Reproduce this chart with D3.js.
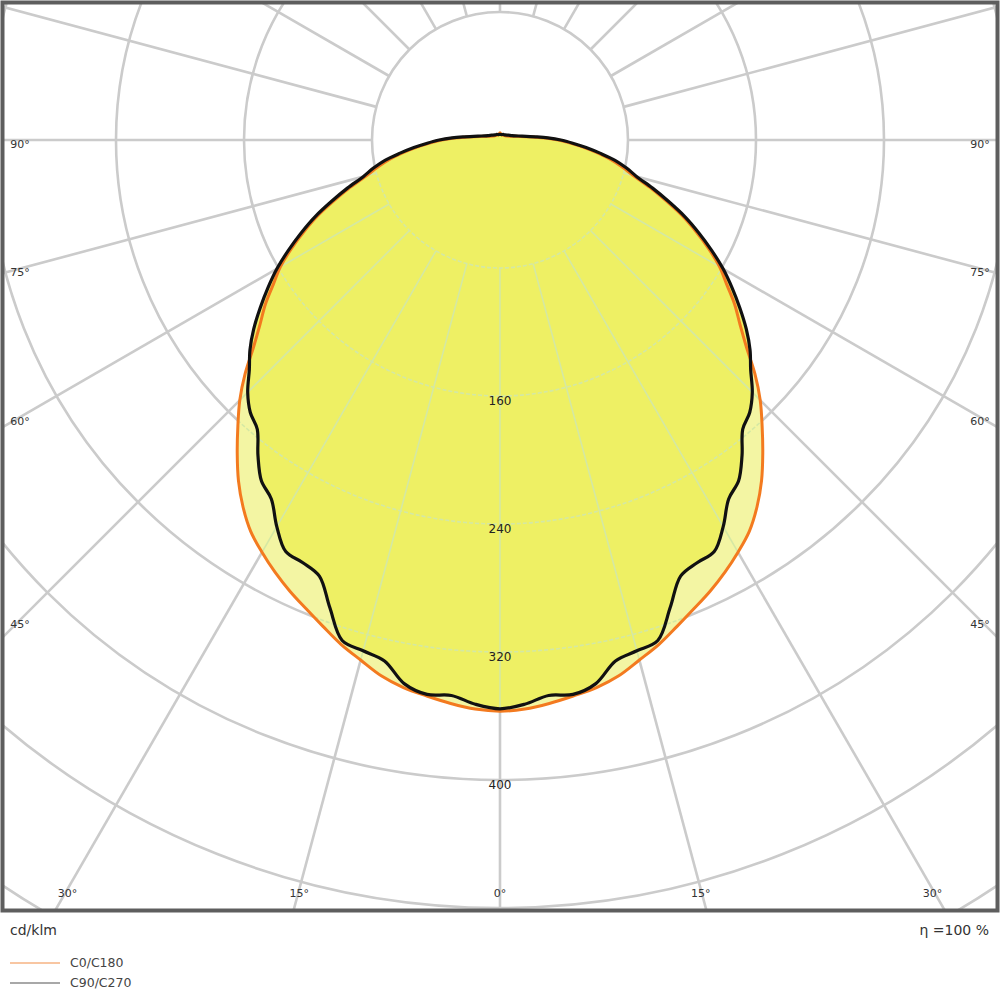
<!DOCTYPE html>
<html>
<head>
<meta charset="utf-8">
<script src="https://cdn.jsdelivr.net/npm/d3@7"></script>
<style>
  body { margin: 0; background: #fff; }
  svg { display: block; font-family: "DejaVu Sans", sans-serif; }
</style>
</head>
<body>
<div id="chart"></div>
<script>
/* light distribution curve, values in cd/klm */
const GAMMA = [0, 2.5, 5, 7.5, 10, 12.5, 15, 17.5, 20, 22.5, 25, 27.5, 30, 32.5, 35, 37.5, 40, 42.5, 45, 47.5,
  50, 52.5, 55, 57.5, 60, 62.5, 65, 67.5, 70, 72.5, 75, 77.5, 80, 82.5, 85, 87.5, 90, 92.5, 95, 100,
  105, 110, 120, 135, 150, 165, 180];

const C0_C180 = [357, 356, 353.5, 350.5, 347.5, 343, 336.5, 330.5, 323.5, 317, 311, 304.5, 297.5, 290, 280, 268.5, 255.5, 242.5, 230, 216,
  201, 189, 179, 168, 158.5, 147, 135, 123, 110, 98, 86.5, 78.5, 70.5, 61.5, 52.5, 44, 36.5, 28.5, 21, 13,
  9, 7, 5, 4, 3.5, 3.5, 4.5];

const C90_C270 = [355.5, 353, 348.5, 349.5, 345, 333.5, 330.5, 328, 311, 295, 291.5, 290, 279, 266, 260, 248.5, 236, 231, 223, 212.5,
  204, 194, 183, 172, 161, 149, 137, 125, 112, 100, 88.5, 81, 73, 63, 54, 45.5, 38, 30, 22.5, 14,
  10, 8, 6, 4.5, 4, 3.5, 3.5];

const RINGS = [80, 160, 240, 320, 400, 480, 560, 640];
const RING_LABELS = [160, 240, 320, 400];
const ANGLE_TICKS = [0, 15, 30, 45, 60, 75, 90];
const SERIES = ["C0/C180", "C90/C270"];

const W = 1000, H = 1000;
const cx = 500, cy = 140;
const frame = { x: 2.5, y: 2.5, w: 995, h: 908 };
const rad = Math.PI / 180;

const r = d3.scaleLinear().domain([0, 80]).range([0, 128]);

const svg = d3.select("#chart").append("svg").attr("width", W).attr("height", H);
const defs = svg.append("defs");

defs.append("clipPath").attr("id", "frame")
  .append("rect").attr("x", frame.x).attr("y", frame.y).attr("width", frame.w).attr("height", frame.h);

// closed outline: right half gamma 0..180, left half mirrored
function outline(values) {
  const pts = GAMMA.map((g, i) => [Math.PI - g * rad, r(values[i])]);
  for (let i = GAMMA.length - 2; i > 0; i--) {
    pts.push([Math.PI + GAMMA[i] * rad, r(values[i])]);
  }
  return d3.lineRadial().curve(d3.curveCatmullRomClosed.alpha(0.5))(pts);
}
const pathC0 = outline(C0_C180);
const pathC90 = outline(C90_C270);

const inside = defs.append("clipPath").attr("id", "inside");
inside.append("path").attr("d", pathC0);
inside.append("path").attr("d", pathC90);

const outer = svg.append("g").attr("clip-path", "url(#frame)");
const plot = outer.append("g").attr("transform", `translate(${cx},${cy})`);

const spokes = d3.range(0, 360, 15);

function drawGrid(g, color, width, dash) {
  g.selectAll("circle").data(RINGS).enter().append("circle")
    .attr("r", d => r(d))
    .attr("fill", "none")
    .attr("stroke", color)
    .attr("stroke-width", width)
    .attr("stroke-dasharray", dash);
  g.selectAll("line").data(spokes).enter().append("line")
    .attr("x1", a => r(80) * Math.sin(a * rad))
    .attr("y1", a => -r(80) * Math.cos(a * rad))
    .attr("x2", a => r(700) * Math.sin(a * rad))
    .attr("y2", a => -r(700) * Math.cos(a * rad))
    .attr("stroke", color)
    .attr("stroke-width", width);
}

drawGrid(plot.append("g"), "#cbcbcb", 2.6, null);

plot.append("path").attr("d", pathC0).attr("fill", "#f3f5a3");
plot.append("path").attr("d", pathC90).attr("fill", "#eef064");

drawGrid(plot.append("g").attr("clip-path", "url(#inside)"), "#d4e8a4", 1.6, "4,2");

plot.append("path").attr("d", pathC0)
  .attr("fill", "none").attr("stroke", "#f37a1f").attr("stroke-width", 3);
plot.append("path").attr("d", pathC90)
  .attr("fill", "none").attr("stroke", "#111").attr("stroke-width", 3.2).attr("stroke-linejoin", "round");

plot.selectAll("text.ring").data(RING_LABELS).enter().append("text")
  .attr("class", "ring")
  .attr("x", 0)
  .attr("y", d => r(d) + 5)
  .attr("dy", "0.35em")
  .attr("text-anchor", "middle")
  .attr("font-size", 12)
  .attr("fill", "#222")
  .text(d => d);

// angle labels where each spoke meets the inner edge of the frame
const box = { left: 20, right: 980, bottom: 889 };
const angleLabels = [];
ANGLE_TICKS.forEach(t => {
  [1, -1].forEach(side => {
    if (t === 0 && side === -1) return;
    const s = Math.sin(t * rad), c = Math.cos(t * rad);
    const tSide = s > 0 ? (box.right - cx) / s : Infinity;
    const tBot = c > 1e-9 ? (box.bottom - cy) / c : Infinity;
    const d = Math.min(tSide, tBot);
    angleLabels.push({ x: cx + side * d * s, y: cy + d * c + 4, text: t + "°" });
  });
});

svg.append("g").selectAll("text").data(angleLabels).enter().append("text")
  .attr("x", d => d.x)
  .attr("y", d => d.y)
  .attr("dy", "0.35em")
  .attr("text-anchor", "middle")
  .attr("font-size", 11)
  .attr("fill", "#333")
  .text(d => d.text);

svg.append("rect")
  .attr("x", frame.x).attr("y", frame.y).attr("width", frame.w).attr("height", frame.h)
  .attr("fill", "none").attr("stroke", "#5e5e5e").attr("stroke-width", 4);

svg.append("text").attr("x", 10).attr("y", 935)
  .attr("font-size", 14).attr("fill", "#333").text("cd/klm");
svg.append("text").attr("x", 989).attr("y", 935).attr("text-anchor", "end")
  .attr("font-size", 14).attr("fill", "#333").text("η =100 %");

const legendColors = ["#f8c6a2", "#a8a8a8"];
const legend = svg.append("g").selectAll("g").data(SERIES).enter().append("g")
  .attr("transform", (d, i) => `translate(10,${963 + i * 20})`);
legend.append("line").attr("x1", 0).attr("x2", 50)
  .attr("stroke", (d, i) => legendColors[i]).attr("stroke-width", 2);
legend.append("text").attr("x", 60).attr("dy", "0.35em")
  .attr("font-size", 12.5).attr("fill", "#444").text(d => d);
</script>
</body>
</html>
